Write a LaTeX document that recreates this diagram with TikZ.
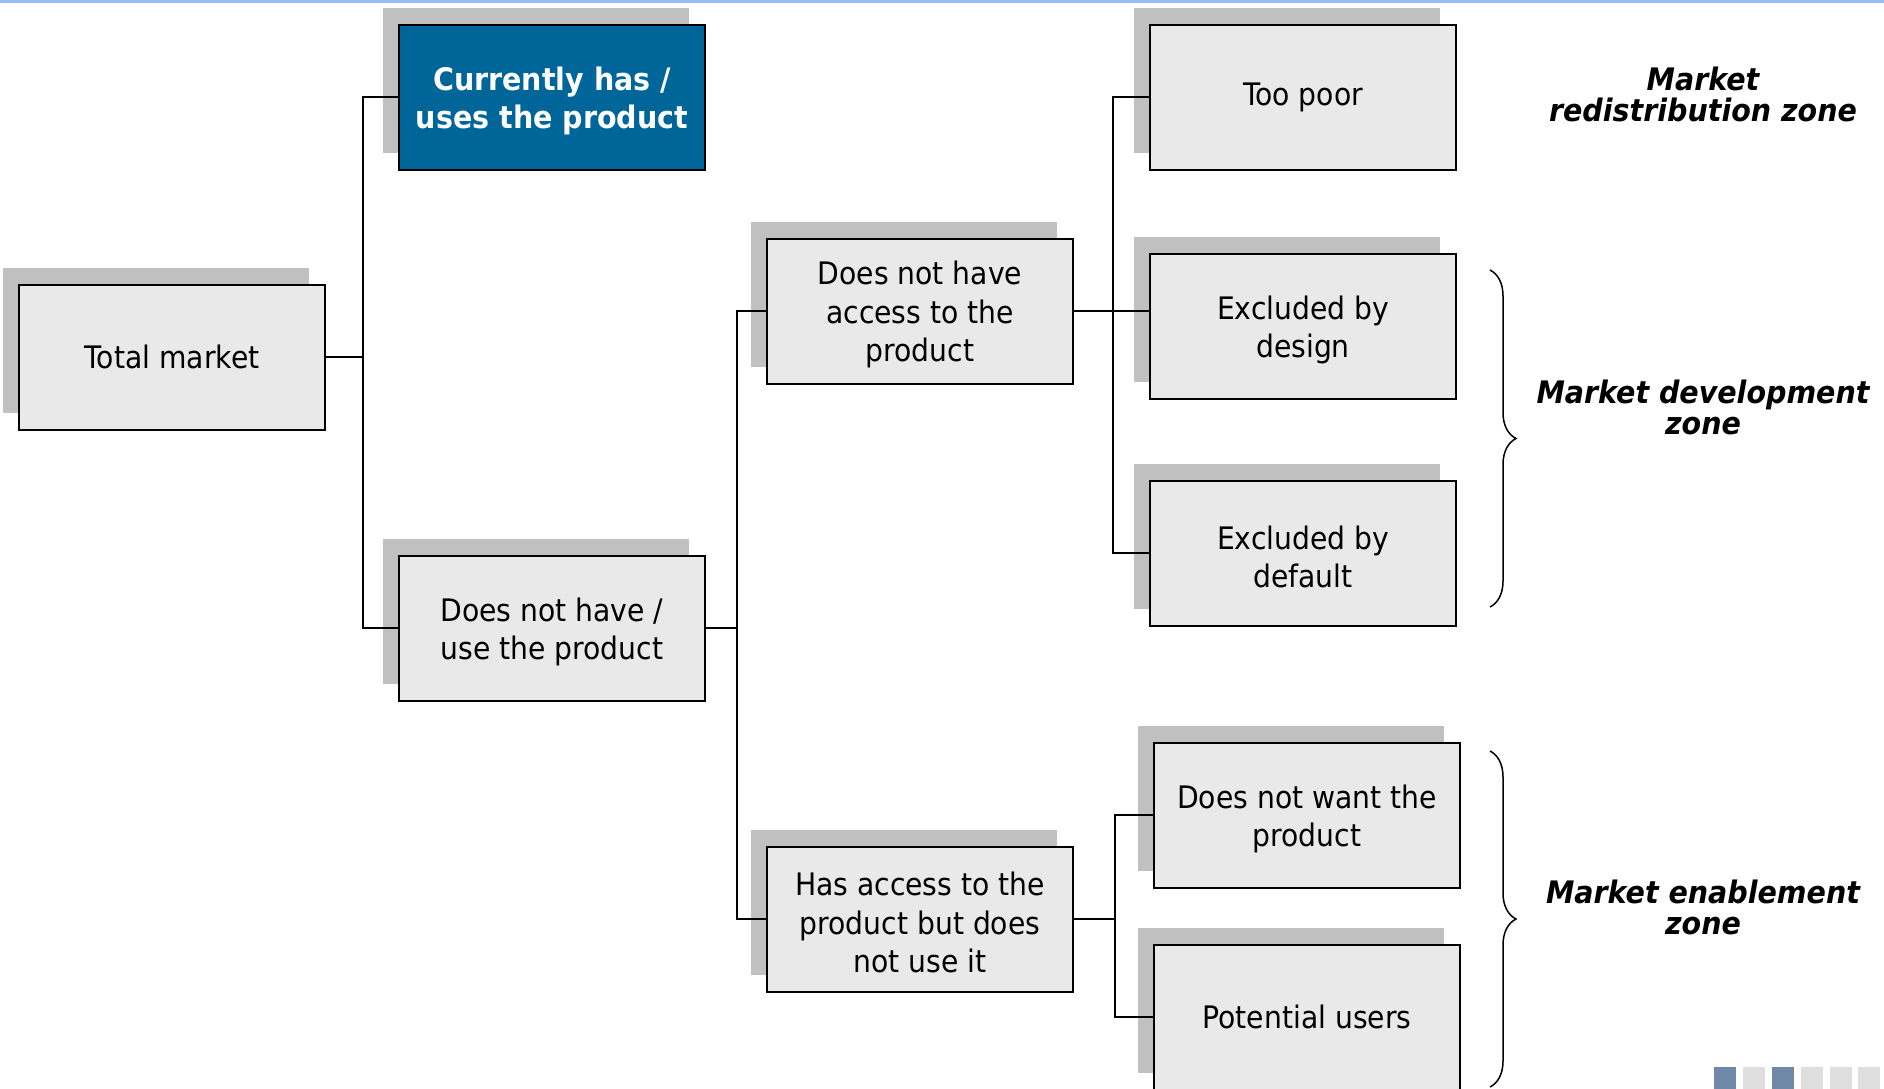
\documentclass[tikz,border=0pt]{standalone}
\usepackage{fontspec}
\setmainfont{DejaVu Sans}[FakeStretch=0.91, BoldFeatures={FakeStretch=0.92}, BoldItalicFeatures={FakeStretch=0.92}]
\usetikzlibrary{shadows,decorations.pathreplacing}

\definecolor{boxgrey}{RGB}{233,233,233}
\definecolor{shadegrey}{RGB}{192,192,192}
\definecolor{usedblue}{RGB}{0,102,153}
\definecolor{rulerblue}{RGB}{150,186,250}
\definecolor{pageblue}{RGB}{112,136,168}
\definecolor{pagegrey}{RGB}{222,222,222}

% taller first line, so that stacked texts sit a little lower
\newcommand{\lift}{\rule{0pt}{31pt}}

\tikzset{
	seg/.style={draw=black, line width=2pt, fill=boxgrey, minimum width=306pt, minimum height=145pt,
		align=center, inner sep=0pt, font=\fontsize{31}{38.4}\selectfont,
		drop shadow={shadow xshift=-16pt, shadow yshift=17pt, fill=shadegrey, opacity=1}},
	usedseg/.style={seg, fill=usedblue, text=white, font=\fontsize{31}{38.4}\selectfont\bfseries},
	wire/.style={line width=2pt},
	zonebrace/.style={line width=1.5pt, decorate, decoration={brace, amplitude=26pt}},
	zone/.style={align=center, inner sep=0pt, font=\fontsize{31}{31}\selectfont\bfseries\itshape}
}

\begin{document}
\begin{tikzpicture}[x=1pt, y=-1pt]
			%%%%% PAGE %%%%%
			\clip (0, 0) rectangle (1884, 1088);
			\fill[white] (0, 0) rectangle (1884, 1088);
			\draw[rulerblue, line width=3pt] (0, 1.5) -- (1884, 1.5);
			
			%%%%% SEGMENTS %%%%%
			\node[seg] (total) at (172, 357) {Total market};
			
			\node[usedseg] (has) at (552, 97) {\lift Currently has /\\uses the product};
			\node[seg] (hasnot) at (552, 628) {\lift Does not have /\\use the product};
			
			\node[seg] (noacc) at (920, 311) {\lift Does not have\\access to the\\product};
			\node[seg] (acc) at (920, 919) {\lift Has access to the\\product but does\\not use it};
			
			\node[seg] (poor) at (1303, 97) {Too poor};
			\node[seg] (design) at (1303, 326) {\lift Excluded by\\design};
			\node[seg] (default) at (1303, 553) {\lift Excluded by\\default};
			
			\node[seg] (notwant) at (1307, 815) {\lift Does not want the\\product};
			\node[seg] (users) at (1307, 1017) {Potential users};
			
			%%%%% TREE LINES %%%%%
			\coordinate (j1) at (363, 357);
			\coordinate (j2) at (737, 628);
			\coordinate (j3) at (1113, 311);
			\coordinate (j4) at (1115, 919);
			
			\draw[wire] (total.east) -- (j1);
			\draw[wire] (has.west) -| (j1) |- (hasnot.west);
			
			\draw[wire] (hasnot.east) -- (j2);
			\draw[wire] (noacc.west) -| (j2) |- (acc.west);
			
			\draw[wire] (noacc.east) -- (noacc.east -| design.west);
			\draw[wire] (poor.west) -| (j3) |- (default.west);
			
			\draw[wire] (acc.east) -- (j4);
			\draw[wire] (notwant.west) -| (j4) |- (users.west);
			
			%%%%% ZONES %%%%%
			\draw[zonebrace] (1490, 270) -- (1490, 607);
			\draw[zonebrace] (1490, 751) -- (1490, 1087);
			
			\node[zone] (redist) at (1703, 94) {Market\\redistribution zone};
			\node[zone] (develop) at (1703, 407) {Market development\\zone};
			\node[zone] (enable) at (1703, 907) {Market enablement\\zone};
			
			%%%%% PAGER %%%%%
			\fill[pageblue] (1714, 1067) rectangle (1736, 1089);
			\fill[pagegrey] (1743, 1067) rectangle (1765, 1089);
			\fill[pageblue] (1772, 1067) rectangle (1794, 1089);
			\fill[pagegrey] (1801, 1067) rectangle (1823, 1089);
			\fill[pagegrey] (1830, 1067) rectangle (1852, 1089);
			\fill[pagegrey] (1858, 1067) rectangle (1880, 1089);
		\end{tikzpicture}
\end{document}
